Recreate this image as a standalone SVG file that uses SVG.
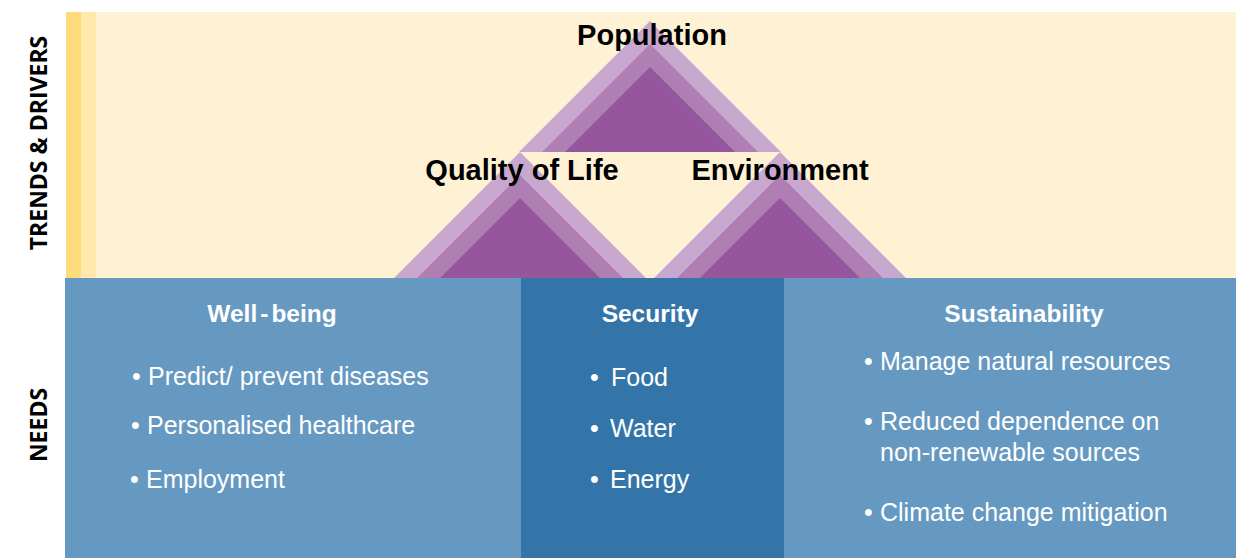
<svg xmlns="http://www.w3.org/2000/svg" width="1236" height="558" viewBox="0 0 1236 558">
<style>
.lbl{font-family:"Open Sans","Liberation Sans",sans-serif;font-weight:700;font-size:23px;fill:#000}
.tri{font-family:"Liberation Sans",Arial,sans-serif;font-weight:700;font-size:29px;fill:#000;text-anchor:middle}
.hd{font-family:"Liberation Sans",Arial,sans-serif;font-weight:700;font-size:24.5px;fill:#fff;text-anchor:middle}
.it{font-family:"Liberation Sans",Arial,sans-serif;font-size:25px;fill:#fff}
.l1{fill:#C9A8CF}.l2{fill:#AF7EB3}.l3{fill:#96569D}
</style>
<rect width="1236" height="558" fill="#fff"/>
<g id="trends-band">
<rect x="66" y="12" width="1170" height="266" fill="#FFF1D4"/>
<rect x="66" y="12" width="15" height="266" fill="#FFDB7B"/>
<rect x="81" y="12" width="15" height="266" fill="#FFE8AB"/>
</g>
<g id="population">
<polygon class="l1" points="650,21 781,152 519,152"/>
<polygon class="l2" points="650,44 758,152 542,152"/>
<polygon class="l3" points="650,67 735,152 565,152"/>
</g>
<g id="quality-of-life">
<polygon class="l1" points="520,152 646,278 394,278"/>
<polygon class="l2" points="520,175 623,278 417,278"/>
<polygon class="l3" points="520,198 600,278 440,278"/>
</g>
<g id="environment">
<polygon class="l1" points="780,152 906,278 654,278"/>
<polygon class="l2" points="780,175 883,278 677,278"/>
<polygon class="l3" points="780,198 860,278 700,278"/>
</g>
<g id="triangle-labels">
<text class="tri" x="652" y="45">Population</text>
<text class="tri" x="522" y="180">Quality of Life</text>
<text class="tri" x="780" y="180">Environment</text>
</g>
<g id="wellbeing">
<rect x="65" y="278" width="456" height="280" fill="#6699C1"/>
<text class="hd" x="272" y="322">Well<tspan dx="3">-</tspan><tspan dx="3">being</tspan></text>
<text class="it" y="385"><tspan x="132">•</tspan><tspan x="148">Predict/ prevent diseases</tspan></text>
<text class="it" y="434"><tspan x="131">•</tspan><tspan x="147">Personalised healthcare</tspan></text>
<text class="it" y="488"><tspan x="130">•</tspan><tspan x="146">Employment</tspan></text>
</g>
<g id="security">
<rect x="521" y="278" width="263" height="280" fill="#3475A9"/>
<text class="hd" x="650" y="322">Security</text>
<text class="it" y="386"><tspan x="590">•</tspan><tspan x="611">Food</tspan></text>
<text class="it" y="437"><tspan x="590">•</tspan><tspan x="610">Water</tspan></text>
<text class="it" y="488"><tspan x="590">•</tspan><tspan x="610">Energy</tspan></text>
</g>
<g id="sustainability">
<rect x="784" y="278" width="452" height="280" fill="#6699C1"/>
<text class="hd" x="1024" y="322">Sustainability</text>
<text class="it" y="370"><tspan x="864">•</tspan><tspan x="880">Manage natural resources</tspan></text>
<text class="it" y="430"><tspan x="864">•</tspan><tspan x="880">Reduced dependence on</tspan></text>
<text class="it" x="880" y="461">non-renewable sources</text>
<text class="it" y="521"><tspan x="864">•</tspan><tspan x="880">Climate change mitigation</tspan></text>
</g>
<g id="side-labels">
<text class="lbl" text-anchor="middle" transform="translate(47,143) rotate(-90)">TRENDS &amp; DRIVERS</text>
<text class="lbl" text-anchor="middle" transform="translate(47,425) rotate(-90)">NEEDS</text>
</g>
<g id="connectors"></g>
</svg>
